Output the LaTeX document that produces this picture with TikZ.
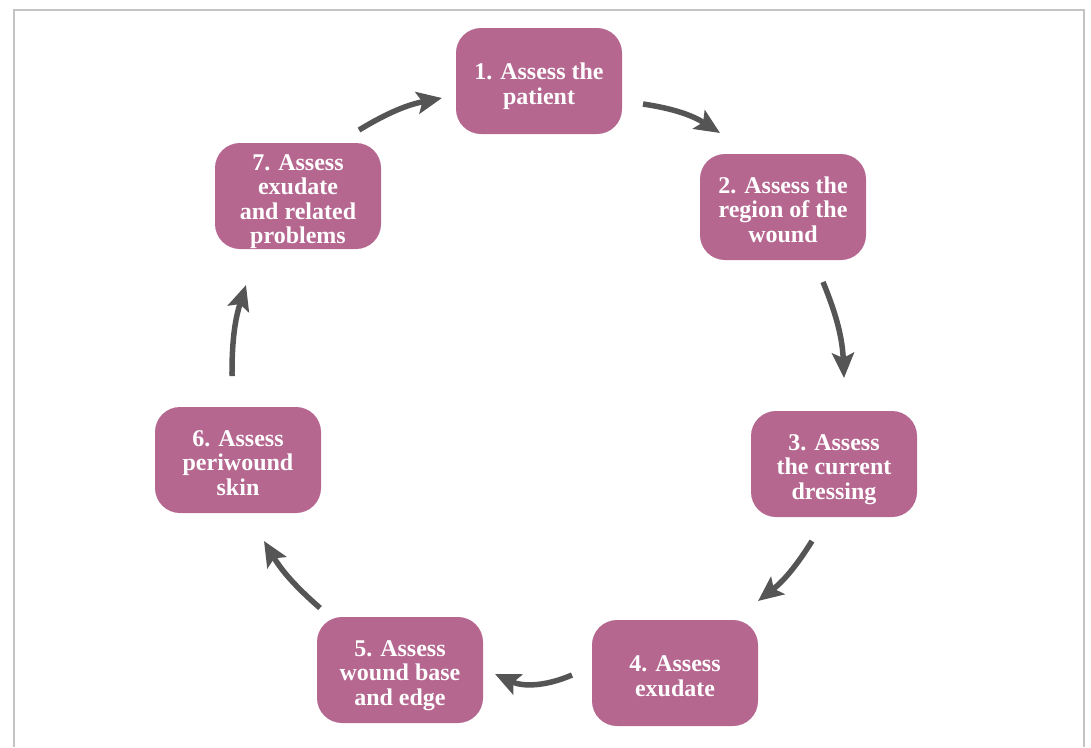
\documentclass[tikz,border=0pt]{standalone}
\usepackage{fontspec}
\setmainfont{Liberation Serif}
\usetikzlibrary{arrows.meta}
\definecolor{boxfill}{HTML}{B5678F}
\definecolor{arrowgray}{HTML}{555555}
\definecolor{framegray}{HTML}{C4C4C4}
\newcommand{\firstlinestrut}{\rule{0pt}{21.5pt}}
\tikzset{
  stepbox/.style={fill=boxfill, rounded corners=25pt, minimum width=166pt, minimum height=106pt,
    text=white, align=center, inner sep=0pt, text depth=0pt,
    font=\fontsize{24}{24.5}\selectfont\bfseries},
  cyclearrow/.style={draw=arrowgray, line width=5.5pt,
    -{Stealth[length=25pt, width=22pt, inset=5pt]}},
  frameline/.style={draw=framegray, line width=1.5pt}
}
\begin{document}
\begin{tikzpicture}[x=1pt, y=1pt]
\useasboundingbox (0,0) rectangle (1091,-747);
\draw[frameline] (14,-747) -- (14,-10) -- (1084,-10) -- (1084,-747);

\node[stepbox] (n1) at (539,-81) {\firstlinestrut 1. Assess the\\patient};
\node[stepbox] (n2) at (783,-207) {\firstlinestrut 2. Assess the\\region of the\\wound};
\node[stepbox] (n3) at (834,-464) {\firstlinestrut 3. Assess\\the current\\dressing};
\node[stepbox] (n4) at (675,-673) {\firstlinestrut 4. Assess\\exudate};
\node[stepbox] (n5) at (400,-670) {\firstlinestrut 5. Assess\\wound base\\and edge};
\node[stepbox] (n6) at (238,-460) {\firstlinestrut 6. Assess\\periwound\\skin};
\node[stepbox] (n7) at (298,-196) {\firstlinestrut 7. Assess\\exudate\\and related\\problems};

% arrow end points (free ends of the cycle arrows)
\coordinate (a1s) at (643,-104); \coordinate (a1e) at (720,-133);
\coordinate (a2s) at (823,-282); \coordinate (a2e) at (844,-378);
\coordinate (a3s) at (812,-541); \coordinate (a3e) at (758,-601);
\coordinate (a4s) at (572,-675); \coordinate (a4e) at (495,-674);
\coordinate (a5s) at (320,-608); \coordinate (a5e) at (264,-541);
\coordinate (a6s) at (232,-376); \coordinate (a6e) at (246,-285);
\coordinate (a7s) at (359,-130); \coordinate (a7e) at (442,-98);

\draw[cyclearrow] (a1s) to[bend left=12] (a1e);
\draw[cyclearrow] (a2s) to[bend left=10] (a2e);
\draw[cyclearrow] (a3s) to[bend left=10] (a3e);
\draw[cyclearrow] (a4s) to[bend left=24] (a4e);
\draw[cyclearrow] (a5s) to[bend left=9] (a5e);
\draw[cyclearrow] (a6s) to[bend left=9] (a6e);
\draw[cyclearrow] (a7s) to[bend left=10] (a7e);
\end{tikzpicture}
\end{document}
